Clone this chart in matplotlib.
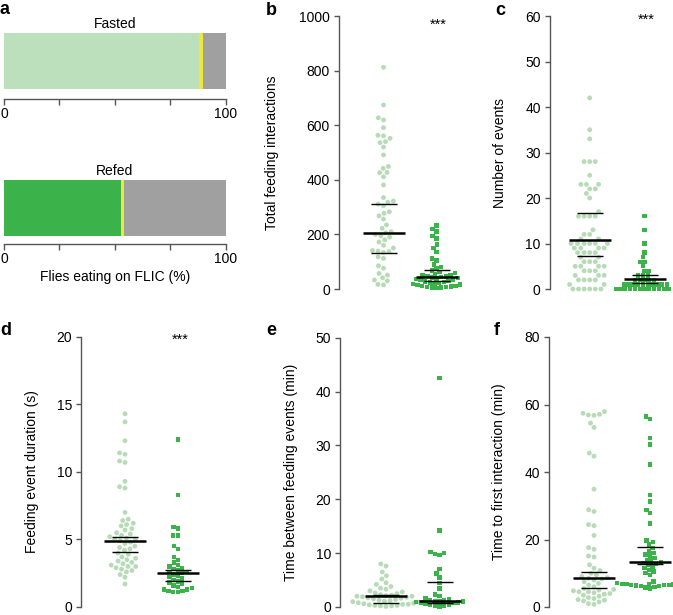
import numpy as np
import matplotlib
matplotlib.use('Agg')
import matplotlib.pyplot as plt

plt.rcParams['font.family'] = ['Liberation Sans', 'DejaVu Sans']
plt.rcParams['font.size'] = 10

# ---------------- data ----------------
bar_groups = ['Fasted', 'Refed']
bar_segments = ['Eating', 'Transition', 'Not eating']
fasted_pct = [88.0, 1.8, 10.2]
refed_pct = [52.6, 1.6, 45.8]
bar_ticks = [0, 25, 50, 75, 100]
bar_ticklabels = ['0', '', '', '', '100']
bar_xlabel = 'Flies eating on FLIC (%)'

groups = ['Fasted', 'Refed']

b_fasted = [812, 674, 627, 619, 591, 563, 561, 552, 540, 536, 520, 491, 449, 442, 427, 426, 411,
            381, 335, 322, 318, 311, 305, 283, 277, 268, 256, 235, 222, 210, 206, 200, 195, 190,
            180, 172, 160, 150, 141, 139, 137, 134, 118, 112, 85, 76, 57, 51, 41, 33, 30, 17, 15]
b_refed = [232, 220, 210, 195, 185, 163, 150, 136, 112, 105, 90, 80, 75, 68, 62, 58, 55, 52, 50,
           48, 46, 44, 42, 40, 38, 36, 34, 32, 30, 28, 26, 24, 22, 20, 18, 16, 14, 12, 10, 9, 8,
           7, 6, 5, 4]
b_median = [206, 45]
b_q1 = [131, 30]
b_q3 = [311, 70]

c_fasted = [42, 35, 33, 28, 28, 28, 25, 23, 23, 23, 22, 22, 21, 20, 17, 16, 16, 16, 16, 13, 12,
            12, 11, 11, 10, 10, 10, 10, 10, 10, 9, 9, 9, 9, 8, 8, 8, 8, 7, 7, 6, 6, 6, 5, 5, 5,
            5, 4, 4, 4, 3, 3, 3, 2, 2, 2, 2, 1, 1, 0, 0, 0, 0, 0, 0]
c_refed = [16, 13, 10, 8, 7, 6, 6, 5, 4, 4, 3, 3, 3, 2, 2, 2, 2, 2, 1, 1, 1, 1, 1, 1, 1, 1, 1,
           1, 0, 0, 0, 0, 0, 0, 0, 0, 0, 0, 0, 0]
c_median = [10.7, 2.1]
c_q1 = [7.2, 1.4]
c_q3 = [16.6, 3.1]

d_fasted = [14.3, 13.7, 12.3, 11.4, 11.3, 10.8, 10.7, 9.3, 8.9, 8.8, 7.0, 6.5, 6.4, 6.2, 6.1,
            6.0, 5.8, 5.7, 5.5, 5.4, 5.3, 5.2, 5.1, 5.0, 5.0, 4.9, 4.8, 4.7, 4.5, 4.4, 4.3, 4.2,
            4.0, 3.9, 3.7, 3.6, 3.5, 3.4, 3.3, 3.2, 3.1, 3.0, 3.0, 2.9, 2.8, 2.7, 2.6, 2.4, 2.2, 1.7]
d_refed = [12.4, 8.3, 5.9, 5.8, 5.3, 5.3, 4.5, 4.3, 3.7, 3.5, 3.3, 3.1, 3.0, 2.9, 2.8, 2.7, 2.6,
           2.6, 2.5, 2.4, 2.3, 2.2, 2.1, 2.0, 1.9, 1.8, 1.7, 1.6, 1.5, 1.4, 1.3, 1.3, 1.2, 1.2,
           1.1, 1.1]
d_median = [4.92, 2.51]
d_q1 = [4.05, 1.92]
d_q3 = [5.17, 2.73]

e_fasted = [8.0, 7.6, 6.5, 5.8, 5.2, 4.5, 4.2, 3.8, 3.5, 3.3, 3.0, 2.8, 2.6, 2.5, 2.3, 2.2, 2.1,
            2.0, 2.0, 1.9, 1.8, 1.7, 1.6, 1.5, 1.4, 1.3, 1.2, 1.1, 1.0, 0.9, 0.8, 0.7, 0.6, 0.5,
            0.5, 0.4, 0.3, 0.3, 0.2, 0.2, 0.1]
e_refed = [42.5, 14.2, 10.2, 10.0, 9.8, 9.6, 7.0, 6.2, 5.5, 4.5, 3.4, 2.3, 2.0, 1.6, 1.4, 1.3,
           1.2, 1.1, 1.0, 1.0, 0.9, 0.8, 0.8, 0.7, 0.6, 0.5, 0.4, 0.3, 0.2, 0.1]
e_median = [1.96, 1.05]
e_q1 = [0.8, 0.75]
e_q3 = [2.3, 4.6]

f_fasted = [57.9, 57.4, 57.1, 56.9, 56.8, 54.5, 53.2, 45.6, 44.7, 34.9, 28.8, 28.3, 24.4, 24.1,
            21.2, 17.6, 17.1, 15.1, 14.8, 12.5, 11.5, 10.8, 10.0, 9.5, 9.0, 8.7, 8.5, 8.3, 8.0,
            7.5, 7.0, 6.5, 6.0, 5.5, 5.2, 5.0, 4.8, 4.5, 4.5, 4.2, 4.0, 3.8, 3.5, 3.2, 2.8, 2.5,
            2.2, 2.0, 1.8, 1.5, 1.0, 0.8]
f_refed = [56.5, 55.7, 50.1, 48.2, 42.2, 33.2, 31.3, 28.8, 27.8, 24.7, 19.7, 19.2, 18.5, 17.5,
           16.5, 16.0, 15.5, 15.0, 14.5, 14.0, 13.5, 13.2, 13.0, 12.8, 12.5, 12.0, 11.5, 11.0,
           10.5, 10.0, 9.5, 7.5, 7.2, 7.0, 7.0, 6.9, 6.8, 6.8, 6.7, 6.6, 6.5, 6.5, 6.4, 6.3,
           6.2, 6.0, 5.8, 5.5]
f_median = [8.5, 13.4]
f_q1 = [5.6, 12.7]
f_q3 = [10.25, 17.9]

# ---------------- style ----------------
LIGHT = '#bcdfbc'
DOT = '#b6dbb6'
DARK = '#3cb34a'
GREY = '#a0a0a0'
YELLOW = '#efe73a'
SPINE = '#555555'
seg_colors = {'Fasted': [LIGHT, YELLOW, GREY], 'Refed': [DARK, YELLOW, GREY]}

W, H = 673, 615
fig = plt.figure(figsize=(W / 100, H / 100), dpi=100)


def px_axes(left, top, right, bottom):
    return fig.add_axes([left / W, 1 - bottom / H, (right - left) / W, (bottom - top) / H])


def fig_text(x, y, s, **kw):
    fig.text(x / W, 1 - y / H, s, **kw)


# ---------------- panel a ----------------
def bar_panel(top, bar_px, spine_y, pct, name, xlabel=None):
    ax = px_axes(4, top, 226, spine_y)
    h = spine_y - top
    left = 0
    for val, col in zip(pct, seg_colors[name]):
        ax.barh(0, val, left=left, height=1, color=col, edgecolor='none')
        left += val
    ax.set_ylim(0.5 - h / bar_px, 0.5)
    ax.set_xlim(0, 100)
    for s in ['top', 'right', 'left']:
        ax.spines[s].set_visible(False)
    ax.spines['bottom'].set_color(SPINE)
    ax.spines['bottom'].set_linewidth(1.0)
    ax.set_yticks([])
    ax.set_xticks(bar_ticks)
    ax.set_xticklabels(bar_ticklabels)
    ax.tick_params(axis='x', direction='out', length=4, width=1.0, color=SPINE,
                   pad=2, labelsize=10)
    ax.set_title(name, fontsize=10, pad=3.5)
    if xlabel:
        ax.set_xlabel(xlabel, fontsize=10, labelpad=3)
    return ax


bar_panel(33, 56, 98.7, fasted_pct, bar_groups[0])
bar_panel(180, 56, 243.5, refed_pct, bar_groups[1], xlabel=bar_xlabel)


# ---------------- swarm panels ----------------
def swarm_offsets(ypx, d):
    ypx = np.asarray(ypx, float)
    xs = np.zeros(len(ypx))
    px_, py_ = [], []
    for i in np.argsort(-ypx):
        y = ypx[i]
        cands = [0.0]
        for qx, qy in zip(px_, py_):
            dy = abs(qy - y)
            if dy < d:
                dx = np.sqrt(d * d - dy * dy)
                cands += [qx + dx, qx - dx]
        cands.sort(key=lambda c: (abs(c), c))
        for c in cands:
            if all((c - qx) ** 2 + (y - qy) ** 2 >= d * d - 1e-6 for qx, qy in zip(px_, py_)):
                xs[i] = c
                break
        px_.append(xs[i])
        py_.append(y)
    return xs


def swarm_panel(x0, top, bottom, centers, ymax, ystep, fasted, refed, med, q1, q3,
                ylabel, label_right, stars=None, stars_top=None):
    width = 124
    ax = px_axes(x0, top, x0 + width, bottom)
    ppu = centers[1] - centers[0]
    ax.set_xlim((x0 - centers[0]) / ppu, (x0 + width - centers[0]) / ppu)
    ax.set_ylim(0, ymax)
    ypp = (bottom - top) / ymax
    for k, (vals, col, mk, d) in enumerate([(fasted, DOT, 'o', 5.6), (refed, DARK, 's', 4.8)]):
        v = np.asarray(vals, float)
        off = swarm_offsets(bottom - v * ypp, d)
        ax.scatter(k + off / ppu, v, s=12 if mk == 'o' else 10, marker=mk, color=col,
                   edgecolors='none', clip_on=False, zorder=2)
        ax.hlines(med[k], k - 21 / ppu, k + 21 / ppu, color='black', lw=1.8, zorder=3)
        ax.hlines([q1[k], q3[k]], k - 13 / ppu, k + 13 / ppu, color='black', lw=1.0, zorder=3)
    for s in ['top', 'right', 'bottom']:
        ax.spines[s].set_visible(False)
    ax.spines['left'].set_color(SPINE)
    ax.spines['left'].set_linewidth(1.0)
    ax.set_xticks([])
    ax.set_yticks(np.arange(0, ymax + ystep / 2, ystep))
    ax.tick_params(axis='y', direction='out', length=3.5, width=1.0, color=SPINE,
                   pad=3, labelsize=10)
    ax.set_ylabel(ylabel, fontsize=10)
    ax.yaxis.set_label_coords((label_right - x0) / width, 0.5)
    if stars:
        ax.text(1.04, ymax - (stars_top - top) / ypp, stars, ha='center', va='top', fontsize=10.5)
    return ax


swarm_panel(339, 16, 289, (383.5, 436.5), 1000, 200, b_fasted, b_refed, b_median, b_q1, b_q3,
            'Total feeding interactions', 279, '***', 17.5)
swarm_panel(549.7, 16, 289, (589.7, 644.5), 60, 10, c_fasted, c_refed, c_median, c_q1, c_q3,
            'Number of events', 507.5, '***', 13)
swarm_panel(81, 336.7, 607, (125, 178), 20, 5, d_fasted, d_refed, d_median, d_q1, d_q3,
            'Feeding event duration (s)', 39, '***', 333)
swarm_panel(340, 337.7, 607, (386, 439.5), 50, 10, e_fasted, e_refed, e_median, e_q1, e_q3,
            'Time between feeding events (min)', 297.5)
swarm_panel(549, 337, 607, (594, 650), 80, 20, f_fasted, f_refed, f_median, f_q1, f_q3,
            'Time to first interaction (min)', 506)

# panel letters
for letter, x, y in [('a', 0, 14.5), ('b', 266, 15), ('c', 495, 15),
                     ('d', 0, 335), ('e', 266, 335), ('f', 494, 335)]:
    fig_text(x, y, letter, fontsize=13, fontweight='bold', ha='left', va='baseline')

fig.savefig('out.png', dpi=100)
